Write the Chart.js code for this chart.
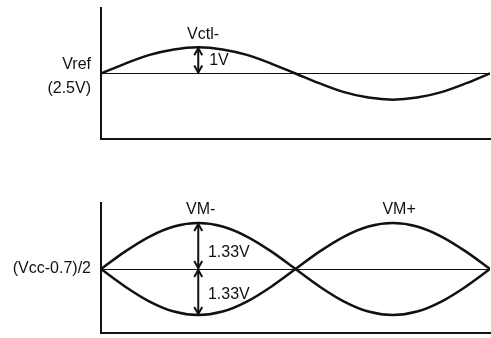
<!DOCTYPE html>
<html>
<head>
<meta charset="utf-8">
<script src="https://cdn.jsdelivr.net/npm/chart.js@4"></script>
<style>
body { margin: 0; background: #fff; }
#wrap { position: relative; width: 491px; height: 338px; }
canvas { position: absolute; left: 0; }
</style>
</head>
<body>
<div id="wrap">
  <canvas id="topChart" width="491" height="150" style="top:0"></canvas>
  <canvas id="bottomChart" width="491" height="168" style="top:170px"></canvas>
</div>
<script>
// phase steps, 1/16 of a period each
const phase = [0, 1, 2, 3, 4, 5, 6, 7, 8, 9, 10, 11, 12, 13, 14, 15, 16];
// Vctl- (volts), swings 1V around Vref
const vctl = [2.5, 2.88, 3.21, 3.42, 3.5, 3.42, 3.21, 2.88, 2.5, 2.12, 1.79, 1.58, 1.5, 1.58, 1.79, 2.12, 2.5];
// VM- / VM+ (volts relative to (Vcc-0.7)/2)
const vmMinus = [0, 0.51, 0.94, 1.23, 1.33, 1.23, 0.94, 0.51, 0, -0.51, -0.94, -1.23, -1.33, -1.23, -0.94, -0.51, 0];
const vmPlus = [0, -0.51, -0.94, -1.23, -1.33, -1.23, -0.94, -0.51, 0, 0.51, 0.94, 1.23, 1.33, 1.23, 0.94, 0.51, 0];
const vref = 2.5;
const topTickLabel = ['Vref', '(2.5V)'];
const bottomTickLabel = '(Vcc-0.7)/2';

const ink = '#111';
Chart.defaults.font.family = '"Liberation Sans", Arial, sans-serif';
Chart.defaults.font.size = 16;
Chart.defaults.color = ink;

// draws text notes and double arrows in data coordinates
const notesPlugin = {
    id: 'notes',
    afterDatasetsDraw(chart, args, opts) {
        const ctx = chart.ctx;
        const xs = chart.scales.x, ys = chart.scales.y;
        ctx.save();
        ctx.strokeStyle = ink;
        ctx.fillStyle = ink;
        ctx.lineWidth = 2;
        (opts.arrows || []).forEach(a => {
            const px = xs.getPixelForValue(a.x);
            const y1 = ys.getPixelForValue(a.from);
            const y2 = ys.getPixelForValue(a.to);
            ctx.beginPath();
            ctx.moveTo(px, y1);
            ctx.lineTo(px, y2);
            ctx.stroke();
            [[y1, y2], [y2, y1]].forEach(([tip, other]) => {
                const dir = other > tip ? 1 : -1;
                ctx.beginPath();
                ctx.moveTo(px - 4, tip + dir * 8);
                ctx.lineTo(px, tip + dir);
                ctx.lineTo(px + 4, tip + dir * 8);
                ctx.stroke();
            });
        });
        ctx.font = '16px "Liberation Sans", Arial, sans-serif';
        ctx.textBaseline = 'middle';
        (opts.texts || []).forEach(t => {
            ctx.textAlign = t.align || 'center';
            ctx.fillText(t.text, xs.getPixelForValue(t.x), ys.getPixelForValue(t.y));
        });
        ctx.restore();
    }
};

function makeScales(yMin, yMax, midValue, label, labelOffset) {
    return {
        x: {
            type: 'linear', min: 0, max: 16,
            ticks: { display: false },
            grid: { display: false, drawTicks: false },
            border: { color: ink, width: 2 }
        },
        y: {
            min: yMin, max: yMax,
            afterBuildTicks: s => { s.ticks = [{ value: midValue }]; },
            afterFit: s => { s.width = 101; s.paddingTop = 0; s.paddingBottom = 0; },
            ticks: {
                callback: () => label,
                padding: 10,
                labelOffset: labelOffset,
                font: { size: 16, lineHeight: 1.45 },
                color: ink
            },
            grid: { drawTicks: false, color: ink, lineWidth: 1 },
            border: { color: ink, width: 2 }
        }
    };
}

function lineSet(values) {
    return {
        data: phase.map((p, i) => ({ x: p, y: values[i] })),
        borderColor: ink,
        borderWidth: 2.5,
        pointRadius: 0,
        cubicInterpolationMode: 'monotone',
        fill: false
    };
}

// top chart: Vctl-
new Chart(document.getElementById('topChart'), {
    type: 'line',
    data: { datasets: [lineSet(vctl)] },
    options: {
        responsive: false,
        animation: false,
        devicePixelRatio: 1,
        layout: { padding: { top: 8, right: 1, bottom: 11, left: 0 } },
        scales: makeScales(0, 5, vref, topTickLabel, 3),
        plugins: {
            legend: { display: false },
            tooltip: { enabled: false },
            notes: {
                arrows: [{ x: 4, from: 2.5, to: 3.5 }],
                texts: [
                    { text: 'Vctl-', x: 4.2, y: 4.0 },
                    { text: '1V', x: 4.45, y: 2.98, align: 'left' }
                ]
            }
        }
    },
    plugins: [notesPlugin]
});

// bottom chart: VM- and VM+
new Chart(document.getElementById('bottomChart'), {
    type: 'line',
    data: { datasets: [lineSet(vmMinus), lineSet(vmPlus)] },
    options: {
        responsive: false,
        animation: false,
        devicePixelRatio: 1,
        layout: { padding: { top: 33, right: 1, bottom: 5, left: 0 } },
        scales: makeScales(-1.85, 1.91, 0, bottomTickLabel, 0),
        plugins: {
            legend: { display: false },
            tooltip: { enabled: false },
            notes: {
                arrows: [{ x: 4, from: 0, to: 1.33 }, { x: 4, from: 0, to: -1.33 }],
                texts: [
                    { text: 'VM-', x: 4.1, y: 1.73 },
                    { text: 'VM+', x: 12.26, y: 1.73 },
                    { text: '1.33V', x: 4.4, y: 0.49, align: 'left' },
                    { text: '1.33V', x: 4.4, y: -0.75, align: 'left' }
                ]
            }
        }
    },
    plugins: [notesPlugin]
});
</script>
</body>
</html>
